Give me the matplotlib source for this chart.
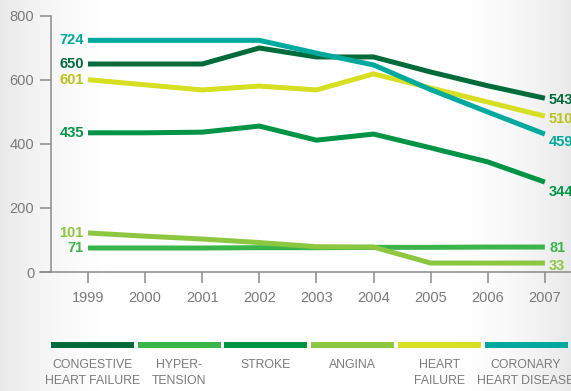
import matplotlib
matplotlib.use("Agg")
import matplotlib.pyplot as plt
from matplotlib.patches import Rectangle
import numpy as np

years = [1999, 2000, 2001, 2002, 2003, 2004, 2005, 2006, 2007]
congestive = [650, 650, 650, 700, 672, 672, 625, 582, 543]
hypertension = [75, 75, 75, 76, 76, 77, 77, 78, 78]
stroke = [435, 435, 437, 456, 412, 431, 388, 344, 281]
angina = [122, 112, 103, 92, 79, 78, 28, 28, 28]
heart_failure = [601, 585, 569, 581, 569, 619, 575, 531, 487]
coronary = [724, 724, 724, 724, 684, 647, 570, 500, 431]

series = [congestive, hypertension, stroke, angina, heart_failure, coronary]
start_labels = ["650", "71", "435", "101", "601", "724"]
end_labels = ["543", "81", "344", "33", "510", "459"]
names = ["CONGESTIVE\nHEART FAILURE", "HYPER-\nTENSION", "STROKE", "ANGINA",
         "HEART\nFAILURE", "CORONARY\nHEART DISEASE"]
colors = ["#006b3a", "#3ab54a", "#009444", "#8dc63f", "#d7df23", "#00a99d"]
text_colors = ["#006b3a", "#3ab54a", "#009444", "#8dc63f", "#bcc21c", "#00a99d"]
yticks = [0, 200, 400, 600, 800]

W, H = 571, 391
fig = plt.figure(figsize=(W / 100, H / 100), dpi=100)

# background gradient
bg = fig.add_axes([0, 0, 1, 1], zorder=-10)
xx = np.linspace(0, 1, 300)
yy = np.linspace(0, 1, 200)
X, Y = np.meshgrid(xx, yy)
d = np.clip((np.abs(X - 0.5) - 0.3) / 0.2, 0, 1)
v = 1 - 0.085 * d ** 1.6
img = np.dstack([v, v, v])
bg.imshow(img, extent=[0, 1, 0, 1], aspect="auto")
bg.axis("off")

ax = fig.add_axes([40 / W, 119 / H, 530 / W, 256 / H])
ax.patch.set_alpha(0)
ax.set_xlim(1998.16, 2007.44)
ax.set_ylim(0, 800)

for s, c in zip(series, colors):
    ax.plot(years, s, color=c, lw=3.6, solid_capstyle="butt",
            solid_joinstyle="miter", clip_on=False)

# vertical nudges (pixels) of the end labels, as in the reference
end_dy = [0, 0, -6, -1, -1, -4.5]

for s, lab, tc in zip(series, start_labels, text_colors):
    ax.annotate(lab, (years[0], s[0]), xytext=(-3, 0), textcoords="offset points",
                ha="right", va="center", color=tc, fontsize=10.5,
                fontweight="bold", family="Liberation Sans", annotation_clip=False)
for s, lab, tc, dy in zip(series, end_labels, text_colors, end_dy):
    ax.annotate(lab, (years[-1], s[-1]), xytext=(3, dy - 1), textcoords="offset points",
                ha="left", va="center", color=tc, fontsize=10.5,
                fontweight="bold", family="Liberation Sans", annotation_clip=False)

gray = "#8a8a8a"
for sp in ["top", "right"]:
    ax.spines[sp].set_visible(False)
ax.spines["left"].set_position(("data", 1998.35))
ax.spines["left"].set_bounds(0, 800)
ax.spines["left"].set_color(gray)
ax.spines["bottom"].set_color(gray)
ax.spines["left"].set_linewidth(1.1)
ax.spines["bottom"].set_linewidth(1.1)

ax.set_yticks(yticks)
ax.set_yticklabels([str(t) for t in yticks])
ax.set_xticks(years)
ax.set_xticklabels([str(y) for y in years])
ax.tick_params(axis="y", direction="out", length=8, width=1.1, color=gray,
               labelcolor="#7a7a7a", labelsize=10.5, pad=4)
ax.tick_params(axis="x", direction="out", length=8, width=1.1, color=gray,
               labelcolor="#7a7a7a", labelsize=10.5, pad=6)
for lab in ax.get_xticklabels() + ax.get_yticklabels():
    lab.set_family("Liberation Sans")

# legend bars
bar_w = 83
pitch = 86.7
x0 = 51
for i, (c, n) in enumerate(zip(colors, names)):
    xl = x0 + i * pitch
    fig.add_artist(Rectangle((xl / W, (H - 348) / H), bar_w / W, 6.5 / H,
                             transform=fig.transFigure, color=c, lw=0))
    fig.text((xl + bar_w / 2) / W, (H - 359) / H, n, ha="center", va="top",
             fontsize=8.8, color="#7a7a7a", family="Liberation Sans",
             linespacing=1.5)

fig.savefig("out.png", dpi=100)
